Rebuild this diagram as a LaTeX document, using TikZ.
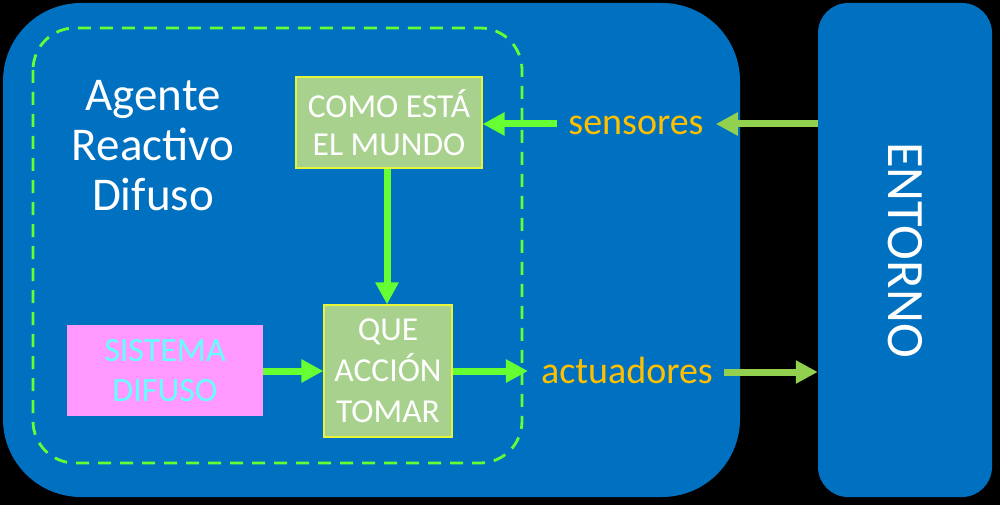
\documentclass[tikz,border=0pt]{standalone}
\usepackage{fontspec}
\setmainfont{Carlito}
\usetikzlibrary{arrows.meta}
\definecolor{agblue}{HTML}{0070C0}
\definecolor{boxgreen}{HTML}{A9D18E}
\definecolor{boxedge}{HTML}{E6F53C}
\definecolor{pinkbox}{HTML}{FF99FF}
\definecolor{cyantxt}{HTML}{66FFFF}
\definecolor{brightgreen}{HTML}{66FF33}
\definecolor{lightgreen}{HTML}{92D050}
\definecolor{orangetxt}{HTML}{FFC000}
\tikzset{
  container/.style={fill=agblue, draw=none, inner sep=0pt},
  greenbox/.style={fill=boxgreen, draw=boxedge, line width=1.2pt, inner sep=0pt, align=center,
    text=white, font=\fontsize{33.5}{38}\selectfont},
  pinkbox/.style={fill=pinkbox, draw=none, inner sep=0pt, align=center,
    text=cyantxt, font=\fontsize{34}{40}\selectfont},
  inarrow/.style={draw=brightgreen, line width=7pt, -{Triangle[length=22pt,width=22pt]}},
  outarrow/.style={draw=lightgreen, line width=7pt, -{Triangle[length=22pt,width=22pt]}},
  labeltxt/.style={text=orangetxt, font=\fontsize{38}{44}\selectfont, inner sep=0pt, anchor=base},
}
\begin{document}
\begin{tikzpicture}[x=1pt,y=-1pt]
\fill[black] (0,0) rectangle (1000,505);
\useasboundingbox (0,0) rectangle (1000,505);
% containers
\node[container, rounded corners=78pt, minimum width=737pt, minimum height=494pt] (agent) at (371.5,250) {};
\node[container, rounded corners=30pt, minimum width=174pt, minimum height=494pt] (entorno) at (905,250) {};
\node[text=white, rotate=-90, font=\fontsize{52.5}{52}\selectfont, inner sep=0pt] (entlabel) at (905,250) {ENTORNO};
% dashed boundary
\draw[brightgreen, line width=2.8pt, dash pattern=on 13pt off 9pt, rounded corners=42pt] (33,28) rectangle (522,463);
% title
\node[text=white, align=center, font=\fontsize{47}{50}\selectfont, inner sep=0pt] (title) at (153,146) {Agente\\Reactivo\\Difuso};
% boxes
\node[greenbox, minimum width=186pt, minimum height=91pt] (como) at (389,122.5) {COMO ESTÁ\\EL MUNDO};
\node[greenbox, minimum width=128pt, minimum height=132pt, font=\fontsize{33.5}{41}\selectfont] (que) at (388,371) {QUE\\ACCIÓN\\TOMAR};
\node[pinkbox, minimum width=196pt, minimum height=91pt] (sis) at (165,370.5) {SISTEMA\\DIFUSO};
% labels
\node[labeltxt] (sens) at (636,135) {sensores};
\node[labeltxt] (act) at (627,383) {actuadores};
% arrows
\draw[outarrow] (entorno.west |- 0,124) -- ([xshift=12pt]sens.east |- 0,124);
\draw[inarrow] ([xshift=-11pt]sens.west |- 0,124) -- (como.east |- 0,124);
\draw[inarrow] (como.south -| 387,0) -- (que.north -| 387,0);
\draw[inarrow] (sis.east |- 0,371) -- (que.west |- 0,371);
\draw[inarrow] (que.east |- 0,371) -- ([xshift=-13pt]act.west |- 0,371);
\draw[outarrow] ([xshift=11pt]act.east |- 0,372) -- (entorno.west |- 0,372);
\end{tikzpicture}
\end{document}
